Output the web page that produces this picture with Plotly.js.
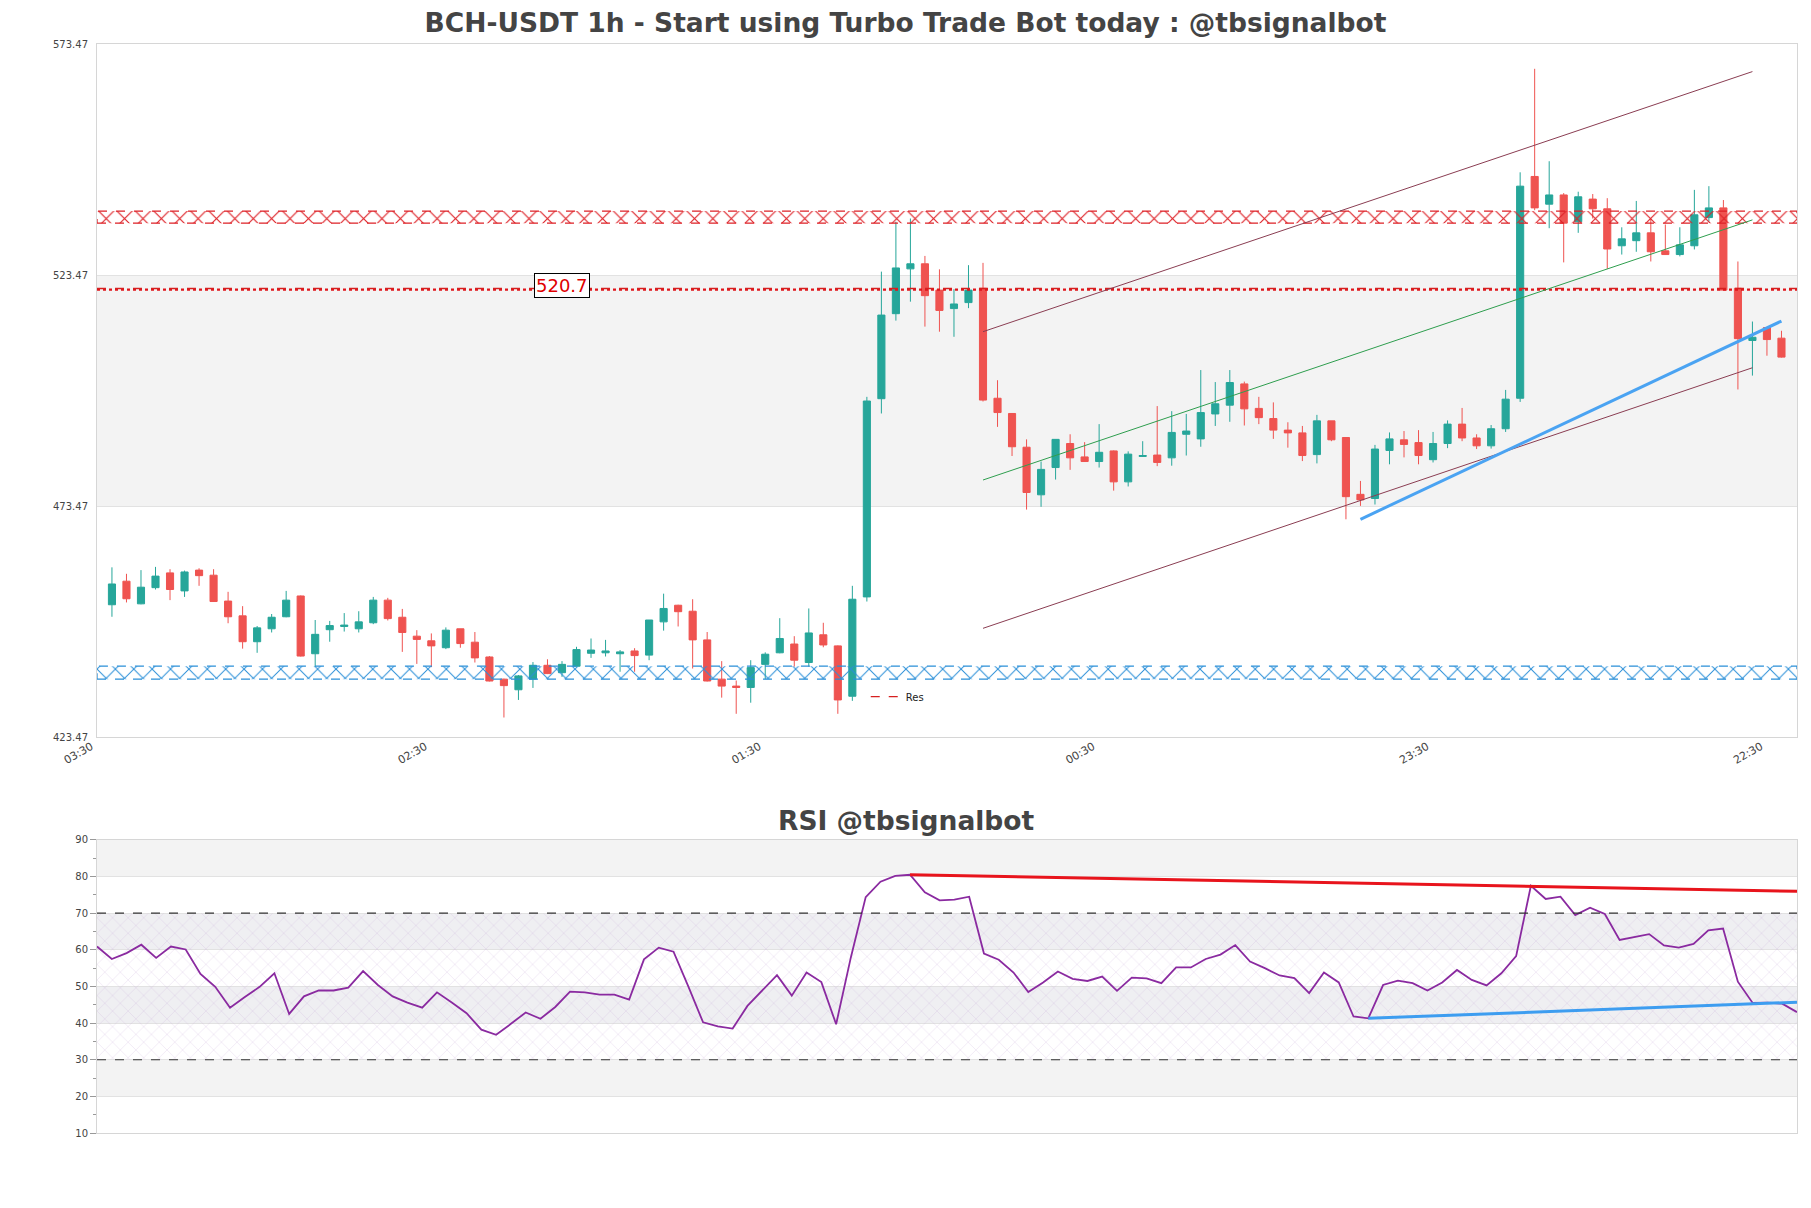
<!DOCTYPE html>
<html>
<head>
<meta charset="utf-8">
<script src="https://cdn.plot.ly/plotly-3.0.1.min.js"></script>
<style>html,body{margin:0;padding:0;background:#fff;}#chart{width:1811px;height:1208px;}</style>
</head>
<body>
<div id="chart"></div>
<script>
// ---------- data ----------
const tickLabels = ['03:30', '02:30', '01:30', '00:30', '23:30', '22:30'];
const openP = [452.1,457.2,452.3,455.8,459.0,455.1,459.6,458.5,452.9,449.7,
  444.1,446.9,449.5,454.0,441.5,446.7,447.4,446.9,448.2,453.1,
  449.4,445.3,444.3,442.8,446.9,444.0,440.8,436.0,433.7,436.0,
  439.0,437.4,438.8,441.6,441.7,441.5,442.1,441.2,448.4,452.0,
  450.7,444.5,436.0,434.5,434.2,439.2,441.7,443.6,439.6,445.6,
  443.2,432.3,453.8,496.7,515.1,524.8,525.9,520.2,516.2,517.5,
  520.6,496.8,493.5,486.2,475.9,481.8,487.0,484.1,483.1,485.4,
  478.7,484.2,484.5,483.9,489.0,488.0,493.4,495.3,499.9,494.6,
  492.4,489.9,489.3,484.6,491.9,488.3,476.0,475.1,485.5,487.8,
  487.2,483.5,487.0,491.2,488.2,486.5,490.2,496.8,544.8,538.8,
  540.8,535.0,539.9,537.8,529.8,530.9,532.6,528.7,527.9,529.8,
  535.9,538.0,520.6,509.3,512.1,509.8];
const highP = [460.2,458.8,459.6,460.3,459.8,459.5,460.0,459.8,454.9,451.8,
  447.5,450.1,455.1,454.1,448.8,448.6,450.3,450.7,453.8,453.6,
  451.2,446.6,445.9,447.2,446.9,446.2,441.0,436.1,436.9,439.7,
  440.3,439.9,443.0,444.8,444.5,442.3,442.7,448.8,454.5,452.1,
  453.3,446.2,439.9,435.7,440.1,441.8,449.2,445.3,451.3,448.2,
  443.3,456.2,497.1,524.2,535.0,535.7,527.6,524.7,520.4,525.6,
  526.1,500.7,493.6,487.9,483.1,487.9,489.0,487.3,491.2,485.5,
  485.3,487.5,495.1,494.0,493.4,502.9,500.3,502.9,500.4,497.1,
  495.9,491.6,490.8,493.2,491.9,488.3,478.9,486.7,489.4,489.7,
  489.9,489.5,492.0,494.7,489.0,491.0,498.6,545.7,568.1,548.1,
  541.2,541.5,541.0,540.1,533.8,539.5,535.7,534.4,533.8,541.9,
  542.7,539.7,526.4,513.4,512.1,511.4];
const lowP = [449.5,452.6,452.2,455.4,453.1,453.8,456.2,452.7,448.1,442.6,
  441.7,446.1,449.4,440.9,438.6,444.1,446.3,446.1,447.9,448.7,
  441.9,439.3,438.6,442.5,442.8,439.6,435.5,427.7,431.5,434.1,
  437.1,436.5,438.7,440.6,440.9,437.6,437.6,440.1,446.5,447.4,
  438.3,435.5,432.0,428.5,430.9,436.0,441.6,438.7,438.7,442.9,
  428.5,431.3,452.8,493.5,513.6,517.7,512.3,511.2,510.1,516.3,
  496.1,490.6,484.3,472.7,473.3,479.2,481.3,483.0,481.8,476.8,
  477.7,484.1,482.1,482.2,484.4,486.3,490.8,491.7,490.9,491.2,
  488.0,486.1,483.2,482.7,487.5,470.6,473.5,473.8,482.5,484.0,
  482.5,482.9,486.0,487.5,485.8,485.9,489.5,496.0,537.5,533.6,
  526.2,532.6,535.7,524.8,527.9,528.5,526.4,527.8,527.5,529.0,
  535.0,520.2,498.7,501.7,506.0,505.6];
const closeP = [456.6,453.4,455.9,458.3,455.4,459.2,458.4,452.8,449.5,444.1,
  447.1,449.4,453.1,441.0,445.7,447.6,447.7,448.4,453.1,449.1,
  446.1,444.6,443.2,446.6,443.7,440.6,435.6,434.6,436.7,439.0,
  437.2,439.2,442.4,442.3,442.1,441.9,441.1,448.8,451.3,450.6,
  444.5,435.6,434.5,434.2,438.5,441.4,444.8,440.1,446.0,443.4,
  431.5,453.3,496.2,514.8,525.0,525.9,519.0,515.8,517.2,520.2,
  496.4,493.7,486.3,476.4,481.4,487.9,483.9,483.1,485.1,478.7,
  484.7,484.4,482.9,489.4,489.7,493.7,495.6,500.2,494.5,492.6,
  489.9,489.3,484.4,491.9,487.8,475.5,474.8,485.8,488.0,486.8,
  484.4,487.0,491.2,488.2,486.5,490.2,496.6,542.7,538.0,540.8,
  534.7,540.4,537.8,529.1,531.3,532.6,528.5,527.9,530.0,536.5,
  538.0,520.2,509.7,510.0,509.5,505.7];
const rsi = [60.9,57.5,59.1,61.4,57.8,60.9,60.1,53.4,49.9,44.2,
  47.1,49.9,53.6,42.5,47.3,48.9,48.9,49.7,54.2,50.4,
  47.3,45.6,44.2,48.4,45.6,42.7,38.2,36.8,39.8,42.9,
  41.2,44.4,48.6,48.4,47.8,47.8,46.4,57.4,60.6,59.5,
  50.0,40.2,39.1,38.5,44.7,48.9,53.1,47.5,53.8,51.2,
  39.7,58.0,74.4,78.6,80.2,80.5,75.7,73.5,73.7,74.5,
  59.0,57.3,53.8,48.5,51.1,54.1,52.1,51.5,52.7,48.8,
  52.4,52.2,50.9,55.2,55.2,57.5,58.7,61.3,56.8,55.0,
  53.0,52.3,48.2,53.8,51.1,41.8,41.3,50.4,51.6,50.9,
  48.9,51.1,54.5,51.8,50.3,53.6,58.3,77.5,73.9,74.5,
  69.5,71.5,69.8,62.7,63.6,64.3,61.2,60.6,61.6,65.3,
  65.8,51.3,45.5,45.6,45.3,43.0];

const resLevel = 520.3;           // drawn level of the "Res" line
const resLabel = '520.7';
const resZone = [534.7, 537.3];   // red hatched zone
const supZone = [436.0, 438.8];   // blue hatched zone
const channelX = [60, 113];
const upperChannel = [511.2, 567.5];
const midChannel = [479.1, 535.4];
const lowerChannel = [447.0, 503.4];
const supportX = [86, 115];
const supportY = [470.6, 513.5];
const rsiResX = [55, 115];
const rsiResY = [80.5, 76.0];
const rsiSupX = [86, 115];
const rsiSupY = [41.3, 45.7];
const priceTicks = ['423.47', '473.47', '523.47', '573.47'];

// ---------- build ----------
const idx = closeP.map((_, i) => i);
const rsiIdx = rsi.map((_, i) => i);
const xRange = [-1.03, 116.07];
const tickStart = -1, tickStep = 23;
const tickVals = tickLabels.map((_, k) => tickStart + k * tickStep);

function zoneTrace(z, color, pat, sol) {
  return {
    type: 'scatter', mode: 'lines', xaxis: 'x', yaxis: 'y',
    x: [xRange[0], xRange[1], xRange[1], xRange[0], xRange[0]],
    y: [z[0], z[0], z[1], z[1], z[0]],
    fill: 'toself', fillcolor: 'rgba(0,0,0,0)',
    fillpattern: {shape: 'x', fgcolor: pat, bgcolor: 'rgba(255,255,255,0)', size: 13, solidity: sol},
    line: {color: color, width: 1.3, dash: 'dash'},
    showlegend: false, hoverinfo: 'skip'
  };
}

const traces = [
  zoneTrace(resZone, '#dd2026', '#dd2026', 0.17),
  zoneTrace(supZone, '#2a8fd8', '#2a8fd8', 0.15),
  {type: 'scatter', mode: 'lines', x: xRange, y: [resLevel, resLevel], xaxis: 'x', yaxis: 'y',
   line: {color: '#e0141a', width: 2.4, dash: 'dot'}, showlegend: false, hoverinfo: 'skip'},
  {type: 'scatter', mode: 'lines', name: 'Res', x: xRange, y: [resLevel + 0.25, resLevel + 0.25], xaxis: 'x', yaxis: 'y',
   line: {color: '#d62020', width: 1.3, dash: 'dash'}, showlegend: true, hoverinfo: 'skip'},
  {type: 'candlestick', x: idx, open: openP, high: highP, low: lowP, close: closeP,
   xaxis: 'x', yaxis: 'y', showlegend: false, hoverinfo: 'skip',
   increasing: {line: {color: '#26a69a', width: 1}, fillcolor: '#26a69a'},
   decreasing: {line: {color: '#ef5350', width: 1}, fillcolor: '#ef5350'}},
  {type: 'scatter', mode: 'lines', x: channelX, y: upperChannel, xaxis: 'x', yaxis: 'y',
   line: {color: '#8a3d52', width: 1}, showlegend: false, hoverinfo: 'skip'},
  {type: 'scatter', mode: 'lines', x: channelX, y: lowerChannel, xaxis: 'x', yaxis: 'y',
   line: {color: '#8a3d52', width: 1}, showlegend: false, hoverinfo: 'skip'},
  {type: 'scatter', mode: 'lines', x: channelX, y: midChannel, xaxis: 'x', yaxis: 'y',
   line: {color: '#2e9e4e', width: 1}, showlegend: false, hoverinfo: 'skip'},
  {type: 'scatter', mode: 'lines', x: supportX, y: supportY, xaxis: 'x', yaxis: 'y',
   line: {color: '#4aa3f2', width: 3}, showlegend: false, hoverinfo: 'skip'},
  // RSI panel
  {type: 'scatter', mode: 'lines', x: [rsiIdx[0], rsiIdx[rsiIdx.length - 1], rsiIdx[rsiIdx.length - 1], rsiIdx[0], rsiIdx[0]],
   y: [30, 30, 70, 70, 30], xaxis: 'x2', yaxis: 'y2',
   fill: 'toself', fillcolor: 'rgba(0,0,0,0)',
   fillpattern: {shape: 'x', fgcolor: 'rgba(190,160,210,0.45)', bgcolor: 'rgba(255,255,255,0)', size: 11, solidity: 0.08},
   line: {width: 0}, showlegend: false, hoverinfo: 'skip'},
  {type: 'scatter', mode: 'lines', x: rsiIdx, y: rsi, xaxis: 'x2', yaxis: 'y2',
   line: {color: '#8a2aa0', width: 1.8}, showlegend: false, hoverinfo: 'skip'},
  {type: 'scatter', mode: 'lines', x: rsiResX, y: rsiResY, xaxis: 'x2', yaxis: 'y2',
   line: {color: '#e8141c', width: 3}, showlegend: false, hoverinfo: 'skip'},
  {type: 'scatter', mode: 'lines', x: rsiSupX, y: rsiSupY, xaxis: 'x2', yaxis: 'y2',
   line: {color: '#3d9df0', width: 3}, showlegend: false, hoverinfo: 'skip'}
];

const gray = '#f3f3f3';
const shapes = [
  {type: 'rect', xref: 'paper', yref: 'y', x0: 0, x1: 1, y0: 473.47, y1: 523.47, fillcolor: gray, line: {width: 0}, layer: 'below'},
  {type: 'rect', xref: 'paper', yref: 'y2', x0: 0, x1: 1, y0: 80, y1: 90, fillcolor: gray, line: {width: 0}, layer: 'below'},
  {type: 'rect', xref: 'paper', yref: 'y2', x0: 0, x1: 1, y0: 60, y1: 70, fillcolor: '#efeff2', line: {width: 0}, layer: 'below'},
  {type: 'rect', xref: 'paper', yref: 'y2', x0: 0, x1: 1, y0: 40, y1: 50, fillcolor: '#efeff2', line: {width: 0}, layer: 'below'},
  {type: 'rect', xref: 'paper', yref: 'y2', x0: 0, x1: 1, y0: 20, y1: 30, fillcolor: gray, line: {width: 0}, layer: 'below'},
  {type: 'line', xref: 'paper', yref: 'y2', x0: 0, x1: 1, y0: 70, y1: 70, line: {color: '#333', width: 1.2, dash: 'dash'}},
  {type: 'line', xref: 'paper', yref: 'y2', x0: 0, x1: 1, y0: 30, y1: 30, line: {color: '#333', width: 1.2, dash: 'dash'}}
];

const fontFam = 'DejaVu Sans, Verdana, sans-serif';
const layout = {
  width: 1811, height: 1208,
  paper_bgcolor: '#ffffff', plot_bgcolor: '#ffffff',
  margin: {l: 97, r: 14, t: 44, b: 75},
  font: {family: fontFam, color: '#444'},
  showlegend: true,
  legend: {x: 0.4522, y: 0.414, xanchor: 'left', yanchor: 'top', bgcolor: 'rgba(0,0,0,0)',
           font: {size: 10, color: '#222'}, itemwidth: 30},
  title: {text: 'BCH-USDT 1h - Start using Turbo Trade Bot today : @tbsignalbot',
          font: {family: fontFam, size: 26.5, color: '#444', weight: 'bold'},
          x: 0.5, xref: 'container', xanchor: 'center', y: 1 - 23 / 1208, yref: 'container', yanchor: 'middle'},
  xaxis: {domain: [0, 1], anchor: 'y', range: xRange, tickmode: 'array', tickvals: tickVals, ticktext: tickLabels,
          tickangle: -30, tickfont: {size: 11, color: '#444'}, showgrid: false, zeroline: false,
          ticklabelshift: -6, ticklabelstandoff: -2,
          showline: true, linecolor: '#d6d6d6', mirror: true, rangeslider: {visible: false}, fixedrange: true},
  yaxis: {domain: [0.3636, 1], anchor: 'x', range: [423.47, 573.47], tickmode: 'array',
          tickvals: priceTicks.map(Number), ticktext: priceTicks, tickfont: {size: 10, color: '#444'},
          showgrid: true, gridcolor: '#e2e2e2', zeroline: false, showline: true, linecolor: '#d6d6d6', mirror: true,
          ticks: 'outside', ticklen: 6, tickcolor: 'rgba(0,0,0,0)', fixedrange: true},
  xaxis2: {domain: [0, 1], anchor: 'y2', range: [0, rsi.length - 1], showticklabels: false, showgrid: false,
           zeroline: false, showline: true, linecolor: '#d6d6d6', mirror: true, ticks: '', fixedrange: true},
  yaxis2: {domain: [0, 0.2691], anchor: 'x2', range: [10, 90], tickmode: 'linear', tick0: 10, dtick: 10,
           tickfont: {size: 10, color: '#444'}, ticks: 'outside', ticklen: 6, tickcolor: '#999',
           minor: {dtick: 5, ticks: 'outside', ticklen: 3, tickcolor: '#999', showgrid: false},
           showgrid: true, gridcolor: '#e2e2e2', zeroline: false, showline: true, linecolor: '#d6d6d6', mirror: true,
           fixedrange: true},
  shapes: shapes,
  annotations: [
    {text: resLabel, xref: 'x', yref: 'y', x: 31, y: 521.2, showarrow: false,
     font: {family: fontFam, size: 18, color: '#e00000'}, bgcolor: '#ffffff', bordercolor: '#000', borderwidth: 1, borderpad: 1},
    {text: 'RSI @tbsignalbot', xref: 'paper', yref: 'paper', x: 0.4759, y: 0.2874, xanchor: 'center', yanchor: 'middle',
     showarrow: false, font: {family: fontFam, size: 26.5, color: '#444', weight: 'bold'}}
  ]
};

Plotly.newPlot('chart', traces, layout, {displayModeBar: false, staticPlot: true});
</script>
</body>
</html>
